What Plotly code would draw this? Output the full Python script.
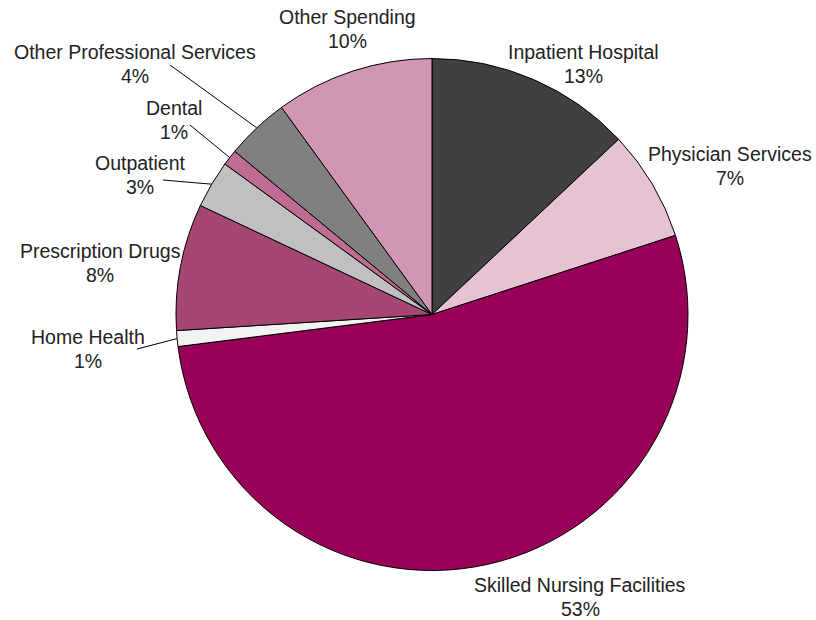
import math
import plotly.graph_objects as go

# Spending shares, clockwise from 12 o'clock
categories = [
    "Inpatient Hospital",
    "Physician Services",
    "Skilled Nursing Facilities",
    "Home Health",
    "Prescription Drugs",
    "Outpatient",
    "Dental",
    "Other Professional Services",
    "Other Spending",
]
shares = [13, 7, 53, 1, 8, 3, 1, 4, 10]
colors = [
    "#404040", "#e6c3d4", "#990057", "#f2f2f2", "#a64674",
    "#c0c0c0", "#bf6b94", "#808080", "#d196b3",
]

W, H = 816, 620
CX, CY, R = 432, 314.5, 256

# Label centres (pixels) for the name line; percent sits one line below
label_pos = {
    "Inpatient Hospital": (583, 52),
    "Physician Services": (730, 154),
    "Skilled Nursing Facilities": (580, 585),
    "Home Health": (88, 337),
    "Prescription Drugs": (100, 251),
    "Outpatient": (140, 163),
    "Dental": (174, 108),
    "Other Professional Services": (135, 52),
    "Other Spending": (347, 17),
}
# Outer end of leader lines for the narrow slices
leader_end = {
    "Home Health": (137, 349),
    "Outpatient": (163, 180),
    "Dental": (190, 125),
    "Other Professional Services": (170, 65),
}
LINE_GAP = 24


def px(x):
    return x / W


def py(y):
    return 1 - y / H


fig = go.Figure(
    go.Pie(
        labels=categories,
        values=shares,
        sort=False,
        direction="clockwise",
        rotation=0,
        marker=dict(colors=colors, line=dict(color="#000000", width=1)),
        textinfo="none",
        hoverinfo="label+percent",
        showlegend=False,
        domain=dict(x=[px(CX - R), px(CX + R)], y=[py(CY + R), py(CY - R)]),
    )
)

font = dict(family="Liberation Sans, Arial, Helvetica, sans-serif", size=19.5, color="#222222")
annotations = []
shapes = []
total = sum(shares)
cum = 0
for name, v in zip(categories, shares):
    mid = (cum + v / 2) / total * 2 * math.pi
    cum += v
    lx, ly = label_pos[name]
    annotations.append(dict(x=px(lx), y=py(ly), xref="paper", yref="paper", text=name,
                            showarrow=False, xanchor="center", yanchor="middle", font=font))
    annotations.append(dict(x=px(lx), y=py(ly + LINE_GAP), xref="paper", yref="paper",
                            text=f"{v}%", showarrow=False, xanchor="center",
                            yanchor="middle", font=font))
    if name in leader_end:
        sx = CX + R * math.sin(mid)
        sy = CY - R * math.cos(mid)
        ex, ey = leader_end[name]
        shapes.append(dict(type="line", xref="paper", yref="paper",
                           x0=px(ex), y0=py(ey), x1=px(sx), y1=py(sy),
                           line=dict(color="#000000", width=1)))

fig.update_layout(
    width=W,
    height=H,
    margin=dict(l=0, r=0, t=0, b=0),
    paper_bgcolor="#ffffff",
    plot_bgcolor="#ffffff",
    annotations=annotations,
    shapes=shapes,
)

fig.write_html("out.html")
